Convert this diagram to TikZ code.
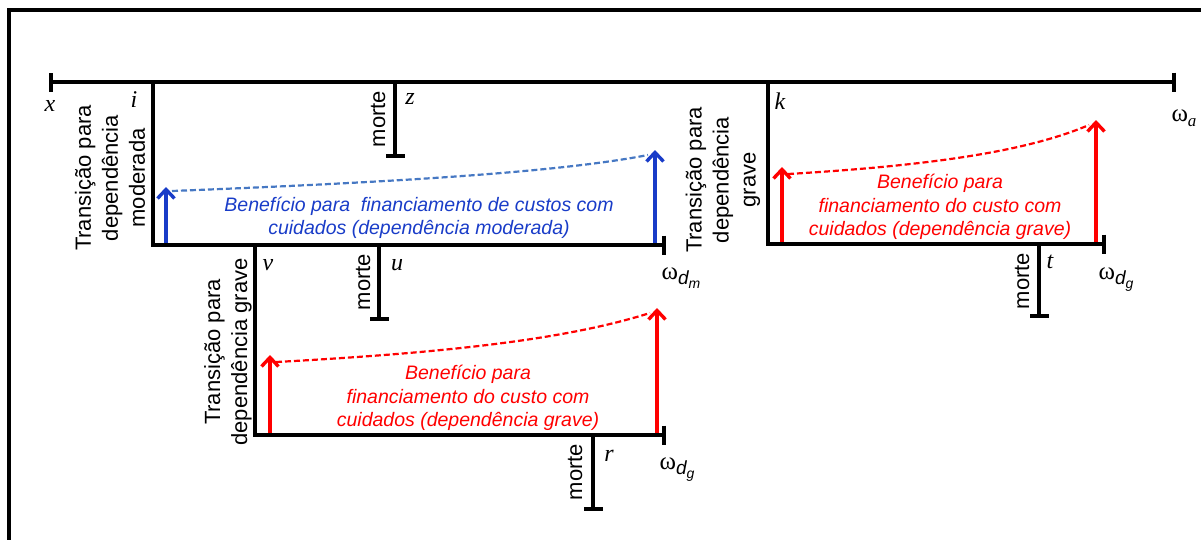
\documentclass[tikz,border=0pt]{standalone}
\usepackage{fontspec}
\setmainfont{Liberation Serif}
\newfontfamily\arialfont{Liberation Sans}
\usetikzlibrary{arrows.meta}

\definecolor{benblue}{RGB}{25,60,200}
\definecolor{dashblue}{RGB}{70,120,195}
\definecolor{benred}{RGB}{255,0,0}

% omega with a two-level italic subscript
\newcommand{\omegasub}[1]{{\fontsize{25}{28}\selectfont ω}{\arialfont\itshape\fontsize{19}{20}\selectfont\raisebox{-5pt}{d}\raisebox{-9pt}{\fontsize{14}{16}\selectfont #1}}}

\begin{document}
\begin{tikzpicture}[x=1pt,y=-1pt,
  frame/.style={line width=3.2pt},
  axis/.style={line width=3.8pt, line join=miter},
  endbar/.style={axis, -{Bar[width=19pt]}},
  startbar/.style={axis, {Bar[width=19pt]}-{Bar[width=19pt]}},
  benarrow/.style={line width=3.4pt, -{Straight Barb[length=9pt,width=17pt]}},
  bencurve/.style={line width=2.2pt, dash pattern=on 6pt off 3pt},
  varlbl/.style={inner sep=0pt, font=\fontsize{24}{28}\selectfont\itshape},
  wlbl/.style={inner sep=0pt},
  trans/.style={inner sep=0pt, rotate=90, align=center, font=\arialfont\fontsize{22}{27}\selectfont},
  death/.style={inner sep=0pt, rotate=90, font=\arialfont\fontsize{22}{27}\selectfont},
  bentext/.style={inner sep=0pt, align=center, font=\arialfont\itshape\fontsize{19.5}{23.5}\selectfont}
]
\useasboundingbox (0,0) rectangle (1201,539);

% outer frame (left and top edges)
\coordinate (fbl) at (9,545);
\coordinate (ftl) at (9,10);
\coordinate (ftr) at (1207,10);
\draw[frame] (fbl) -- (ftl) -- (ftr);

% main life-time axis
\coordinate (x0) at (49,82);
\coordinate (wa) at (1176,82);
\draw[startbar] (x0) -- (wa);

% moderate dependence branch
\coordinate (i0) at (153,82);
\coordinate (i1) at (153,245);
\coordinate (dm) at (666,245);
\draw[endbar] (i0) -- (i1) -- (dm);

% severe dependence after moderate
\coordinate (v0) at (255,245);
\coordinate (v1) at (255,435);
\coordinate (dg1) at (666,435);
\draw[endbar] (v0) -- (v1) -- (dg1);

% severe dependence from autonomy
\coordinate (k0) at (768,82);
\coordinate (k1) at (768,244);
\coordinate (dg2) at (1106,244);
\draw[endbar] (k0) -- (k1) -- (dg2);

% deaths
\coordinate (z0) at (395,82);   \coordinate (z1) at (395,158);
\coordinate (u0) at (379,245);  \coordinate (u1) at (379,321);
\coordinate (r0) at (593,435);  \coordinate (r1) at (593,511);
\coordinate (t0) at (1039,244); \coordinate (t1) at (1039,318);
\draw[endbar] (z0) -- (z1);
\draw[endbar] (u0) -- (u1);
\draw[endbar] (r0) -- (r1);
\draw[endbar] (t0) -- (t1);

% benefit arrows and growth curves: moderate
\coordinate (bm1a) at (166,243); \coordinate (bm1b) at (166,187);
\coordinate (bm2a) at (655,243); \coordinate (bm2b) at (655,150);
\draw[benarrow, benblue] (bm1a) -- (bm1b);
\draw[benarrow, benblue] (bm2a) -- (bm2b);
\coordinate (cm0) at (172,191);
\coordinate (cm1) at (648,155);
\draw[bencurve, dashblue] (cm0) .. controls (400,182) and (560,172) .. (cm1);

% benefit arrows and growth curves: severe after moderate
\coordinate (bg1a) at (270,433); \coordinate (bg1b) at (270,355);
\coordinate (bg2a) at (657,433); \coordinate (bg2b) at (657,308);
\draw[benarrow, benred] (bg1a) -- (bg1b);
\draw[benarrow, benred] (bg2a) -- (bg2b);
\coordinate (cg0) at (276,362);
\coordinate (cg1) at (650,313);
\draw[bencurve, benred] (cg0) .. controls (460,352) and (570,338) .. (cg1);

% benefit arrows and growth curves: severe from autonomy
\coordinate (bk1a) at (782,242); \coordinate (bk1b) at (782,167);
\coordinate (bk2a) at (1096,242); \coordinate (bk2b) at (1096,120);
\draw[benarrow, benred] (bk1a) -- (bk1b);
\draw[benarrow, benred] (bk2a) -- (bk2b);
\coordinate (ck0) at (788,174);
\coordinate (ck1) at (1089,125);
\draw[bencurve, benred] (ck0) .. controls (940,165) and (1030,150) .. (ck1);

% state labels
\node[varlbl] (lx) at (50,106) {x};
\node[varlbl] (li) at (134,100) {i};
\node[varlbl] (lz) at (410,99) {z};
\node[varlbl] (lk) at (780,101) {k};
\node[varlbl] (lv) at (268,265) {v};
\node[varlbl] (lu) at (397,265) {u};
\node[varlbl] (lt) at (1050,262) {t};
\node[varlbl] (lr) at (609,456) {r};

% age limits
\node[wlbl] (lwa) at (1184,118) {{\fontsize{25}{28}\selectfont ω}\raisebox{-5pt}{\fontsize{17}{20}\selectfont\itshape a}};
\node[wlbl] (lwdm) at (681,278) {\omegasub{m}};
\node[wlbl] (lwdg1) at (677,470) {\omegasub{g}};
\node[wlbl] (lwdg2) at (1116,280) {\omegasub{g}};

% transitions
\node[trans] (tm) at (110,178) {Transição para\\dependência\\moderada};
\node[trans] (tg1) at (228,352) {Transição para\\dependência grave};
\node[trans] (tg2) at (723,180) {Transição para\\dependência\\grave};

% death labels
\node[death] (mz) at (378,119) {morte};
\node[death] (mu) at (363,282) {morte};
\node[death] (mr) at (575,472) {morte};
\node[death] (mt) at (1022,281) {morte};

% benefit texts
\node[bentext, benblue] (txm) at (419,218) {Benefício para\ \ financiamento de custos com\\cuidados (dependência moderada)};
\node[bentext, benred] (txg1) at (468,398) {Benefício para\\financiamento do custo com\\cuidados (dependência grave)};
\node[bentext, benred] (txg2) at (940,207) {Benefício para\\financiamento do custo com\\cuidados (dependência grave)};
\end{tikzpicture}
\end{document}
